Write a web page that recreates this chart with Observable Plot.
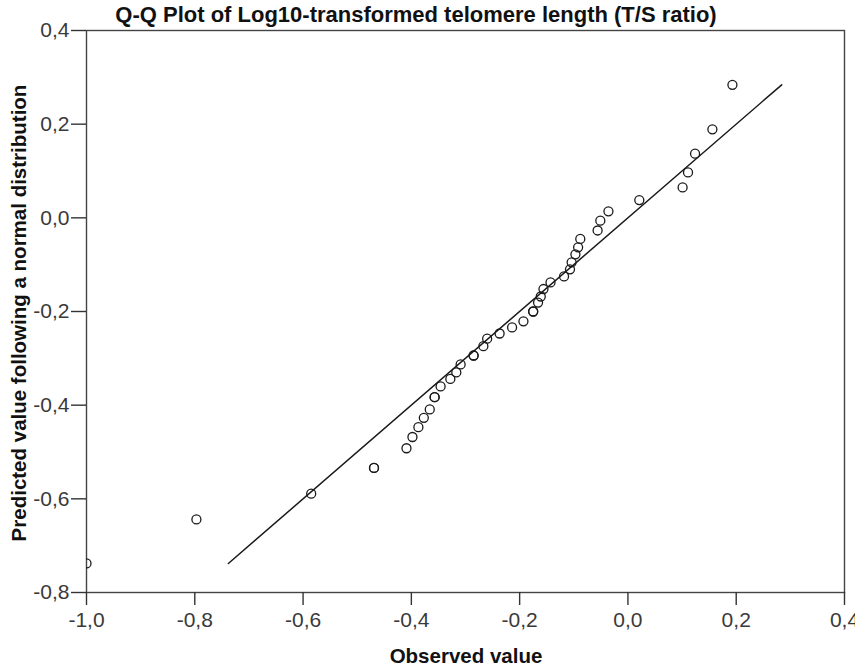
<!DOCTYPE html>
<html>
<head>
<meta charset="utf-8">
<script src="https://cdn.jsdelivr.net/npm/d3@7"></script>
<script src="https://cdn.jsdelivr.net/npm/@observablehq/plot@0.6"></script>
<style>
  html, body { margin: 0; padding: 0; background: #fff; }
</style>
</head>
<body>
<script>
const titleText = "Q-Q Plot of Log10-transformed telomere length (T/S ratio)";
const xLabelText = "Observed value";
const yLabelText = "Predicted value following a normal distribution";

const xTicks = [-1.0, -0.8, -0.6, -0.4, -0.2, 0.0, 0.2, 0.4];
const yTicks = [-0.8, -0.6, -0.4, -0.2, 0.0, 0.2, 0.4];

const observed = [
  -1.000, -0.797, -0.585, -0.469, -0.469, -0.409, -0.398, -0.387, -0.377, -0.366,
  -0.357, -0.357, -0.346, -0.328, -0.317, -0.309, -0.285, -0.285, -0.267, -0.260,
  -0.237, -0.214, -0.193, -0.175, -0.175, -0.166, -0.161, -0.156, -0.143, -0.118,
  -0.107, -0.104, -0.097, -0.092, -0.088, -0.056, -0.051, -0.036, 0.021, 0.101,
  0.111, 0.124, 0.156, 0.193
];
const predicted = [
  -0.738, -0.644, -0.589, -0.534, -0.534, -0.492, -0.468, -0.447, -0.427, -0.409,
  -0.383, -0.383, -0.360, -0.344, -0.330, -0.313, -0.294, -0.294, -0.274, -0.258,
  -0.247, -0.234, -0.221, -0.200, -0.200, -0.181, -0.168, -0.152, -0.138, -0.125,
  -0.110, -0.095, -0.078, -0.063, -0.045, -0.027, -0.006, 0.014, 0.038, 0.065,
  0.097, 0.137, 0.189, 0.284
];
const lineEnds = [-0.738, 0.284];

const points = observed.map((v, i) => ({x: v, y: predicted[i]}));
const refLine = lineEnds.map(v => ({x: v, y: v}));

const fmt = d => (d < -1e-9 ? "-" : "") + Math.abs(d).toFixed(1).replace(".", ",");
const FONT = "'Liberation Sans', Arial, Helvetica, sans-serif";

const chart = Plot.plot({
  width: 855,
  height: 669,
  marginLeft: 86,
  marginRight: 11,
  marginTop: 30,
  marginBottom: 77,
  style: {fontFamily: FONT, fontSize: "21px", background: "#fff", color: "#333"},
  x: {domain: [-1.0, 0.4], label: null},
  y: {domain: [-0.8, 0.4], label: null},
  marks: [
    Plot.frame({stroke: "#444", strokeWidth: 1.4}),
    Plot.axisX({ticks: xTicks, tickFormat: fmt, tickSize: 13, tickPadding: 7, stroke: "#333", strokeWidth: 1.4, fill: "#3a3a3a", fontSize: 21, label: null}),
    Plot.axisY({ticks: yTicks, tickFormat: fmt, tickSize: 15, tickPadding: 2, stroke: "#333", strokeWidth: 1.4, fill: "#3a3a3a", fontSize: 21, label: null}),
    Plot.line(refLine, {x: "x", y: "y", stroke: "#1a1a1a", strokeWidth: 1.5}),
    Plot.dot(points, {x: "x", y: "y", r: 4.5, stroke: "#1a1a1a", strokeWidth: 1.3, fill: "none", clip: true})
  ]
});

document.body.appendChild(chart);

const svg = d3.select(chart);
svg.append("text")
  .attr("x", 416).attr("y", 22)
  .attr("text-anchor", "middle")
  .attr("font-family", FONT).attr("font-weight", "bold").attr("font-size", 22)
  .attr("fill", "#111")
  .text(titleText);
svg.append("text")
  .attr("x", 466).attr("y", 663)
  .attr("text-anchor", "middle")
  .attr("font-family", FONT).attr("font-weight", "bold").attr("font-size", 20.5)
  .attr("fill", "#111")
  .text(xLabelText);
svg.append("text")
  .attr("transform", "translate(26,313) rotate(-90)")
  .attr("text-anchor", "middle")
  .attr("font-family", FONT).attr("font-weight", "bold").attr("font-size", 20.5)
  .attr("fill", "#111")
  .text(yLabelText);
</script>
</body>
</html>
